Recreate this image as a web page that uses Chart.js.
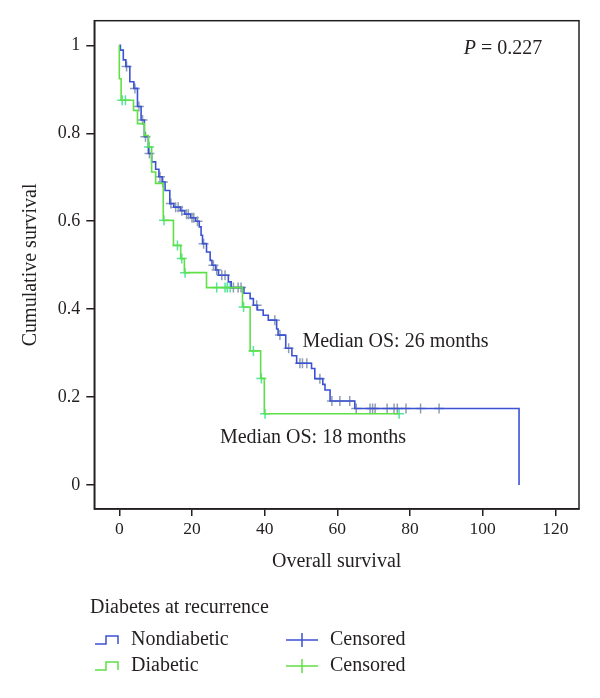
<!DOCTYPE html>
<html><head><meta charset="utf-8">
<script src="https://cdn.jsdelivr.net/npm/chart.js@4.4.1/dist/chart.umd.min.js"></script>
<style>html,body{margin:0;padding:0;background:#fff;} #wrap{position:relative;width:600px;height:698px;}</style>
</head><body><div id="wrap"><canvas id="c" width="600" height="698"></canvas></div>
<script>
// ---- data ----
const xTickValues = [0, 20, 40, 60, 80, 100, 120];
const yTickValues = [0, 0.2, 0.4, 0.6, 0.8, 1];
const groupLabels = ['Nondiabetic', 'Diabetic'];
const legendTitle = 'Diabetes at recurrence';
const censorLabel = 'Censored';
const pValueText = '0.227';
const medianTexts = ['Median OS: 26 months', 'Median OS: 18 months'];

// Nondiabetic: event times (months) and survival after each step
const nonTimes = [0, 0.3, 1.1, 1.8, 2.9, 4.0, 5.0, 6.0, 6.9, 8.0, 8.9, 10.0, 10.9, 11.8, 12.6, 13.9, 15.0, 16.8, 18.0, 19.6, 21.0, 22.0, 22.5, 22.9, 24.0, 25.0, 25.5, 26.5, 27.3, 30.0, 30.8, 34.3, 36.0, 36.9, 38.0, 39.6, 41.0, 43.3, 43.7, 45.8, 47.5, 48.8, 52.9, 53.8, 56.0, 56.6, 58.0, 64.8, 110];
const nonSurv  = [1, 0.989, 0.967, 0.952, 0.917, 0.902, 0.861, 0.830, 0.792, 0.754, 0.735, 0.718, 0.701, 0.689, 0.670, 0.640, 0.632, 0.624, 0.616, 0.608, 0.600, 0.587, 0.568, 0.549, 0.530, 0.511, 0.500, 0.489, 0.477, 0.462, 0.449, 0.436, 0.424, 0.409, 0.398, 0.386, 0.375, 0.355, 0.341, 0.311, 0.294, 0.277, 0.265, 0.242, 0.229, 0.216, 0.191, 0.174, 0];
const nonCensor = [2.0, 4.3, 5.4, 6.4, 7.2, 8.3, 11.2, 12.0, 14.2, 15.5, 16.2, 17.2, 18.5, 19.0, 20.0, 20.5, 21.5, 23.2, 25.9, 26.8, 28.2, 29.1, 31.4, 32.7, 33.5, 37.8, 42.8, 44.2, 46.6, 49.7, 50.4, 51.6, 55.2, 58.5, 60.7, 63.4, 65.2, 69.0, 69.7, 70.4, 73.7, 75.6, 76.5, 78.9, 82.9, 88.0];

// Diabetic
const diaTimes = [0, 0, 0.5, 3.9, 5.0, 6.9, 8.0, 8.9, 10.0, 12.1, 14.9, 16.9, 17.9, 24.0, 33.9, 36.0, 38.9, 39.9, 77];
const diaSurv  = [1, 0.924, 0.875, 0.852, 0.822, 0.795, 0.769, 0.712, 0.686, 0.602, 0.545, 0.515, 0.483, 0.449, 0.405, 0.305, 0.2425, 0.162, 0.162];
const diaCensor = [0.8, 1.7, 8.2, 12.3, 16.0, 17.2, 18.1, 26.8, 29.1, 29.7, 30.5, 34.2, 36.9, 39.1, 40.1, 77];

// ---- styling ----
const BLUE = '#3b52d4', GREEN = '#5fe046';
const BLUE_CENS = '#8e9db4', GREEN_CENS = '#55e59c';
const INK = '#231f20';
const FONT = '"Liberation Serif", "Times New Roman", serif';

function curve(times, surv) { return times.map((t, i) => ({x: t, y: surv[i]})); }
function levelAt(times, surv, t) {
  let s = surv[0];
  for (let i = 0; i < times.length; i++) { if (times[i] <= t) s = surv[i]; }
  return s;
}
function censorPts(cens, times, surv) { return cens.map(t => ({x: t, y: levelAt(times, surv, t)})); }

Chart.defaults.font.family = FONT;
Chart.defaults.color = INK;

const overlay = {
  id: 'overlay',
  afterDraw(chart) {
    const {ctx, chartArea: a, scales: {x, y}} = chart;
    ctx.save();
    ctx.strokeStyle = INK; ctx.lineWidth = 1.5;
    ctx.strokeRect(a.left, a.top, a.right - a.left, a.bottom - a.top);
    ctx.fillStyle = INK; ctx.textBaseline = 'middle'; ctx.textAlign = 'left';
    // p value
    ctx.font = 'italic 20px ' + FONT;
    const px = x.getPixelForValue(94.8), py = y.getPixelForValue(0.992);
    ctx.fillText('P', px, py);
    const pw = ctx.measureText('P').width;
    ctx.font = '20px ' + FONT;
    ctx.fillText(' = ' + pValueText, px + pw, py);
    // median annotations
    ctx.fillText(medianTexts[0], x.getPixelForValue(50.4), y.getPixelForValue(0.326));
    ctx.fillText(medianTexts[1], x.getPixelForValue(27.7), y.getPixelForValue(0.107));
    // legend
    ctx.fillText(legendTitle, 90, 608);
    const rows = [640, 666];
    const cols = [BLUE, GREEN];
    rows.forEach((ry, i) => {
      ctx.strokeStyle = cols[i]; ctx.lineWidth = 1.5;
      ctx.beginPath();
      ctx.moveTo(95, ry + 4); ctx.lineTo(106, ry + 4); ctx.lineTo(106, ry - 4);
      ctx.lineTo(118, ry - 4); ctx.lineTo(118, ry + 4);
      ctx.stroke();
      ctx.beginPath();
      ctx.moveTo(286, ry); ctx.lineTo(318, ry);
      ctx.moveTo(302, ry - 7); ctx.lineTo(302, ry + 7);
      ctx.stroke();
      ctx.fillStyle = INK;
      ctx.fillText(groupLabels[i], 131, ry);
      ctx.fillText(censorLabel, 330, ry);
    });
    ctx.restore();
  }
};

new Chart(document.getElementById('c'), {
  type: 'scatter',
  data: {
    datasets: [
      {label: groupLabels[1], data: curve(diaTimes, diaSurv), showLine: true, stepped: 'before', borderColor: GREEN, borderWidth: 1.6, pointRadius: 0, fill: false},
      {label: groupLabels[0], data: curve(nonTimes, nonSurv), showLine: true, stepped: 'before', borderColor: BLUE, borderWidth: 1.6, pointRadius: 0, fill: false},
      {label: censorLabel, data: censorPts(nonCensor, nonTimes, nonSurv), showLine: false, pointStyle: 'cross', pointRadius: 5, borderColor: BLUE_CENS, borderWidth: 1.5},
      {label: censorLabel, data: censorPts(diaCensor, diaTimes, diaSurv), showLine: false, pointStyle: 'cross', pointRadius: 5, borderColor: GREEN_CENS, borderWidth: 1.5}
    ]
  },
  options: {
    responsive: false, animation: false, devicePixelRatio: 1,
    layout: {padding: {top: 20.7, right: 21, left: 0, bottom: 124}},
    plugins: {legend: {display: false}, tooltip: {enabled: false}},
    scales: {
      x: {
        type: 'linear', min: -6.88, max: 126.5,
        afterBuildTicks: axis => { axis.ticks = xTickValues.map(v => ({value: v})); },
        afterFit: s => { s.height = 65; },
        ticks: {font: {size: 17.5}, color: INK, padding: 3, maxRotation: 0, autoSkip: false},
        grid: {drawOnChartArea: false, drawTicks: true, tickLength: 7, color: INK, lineWidth: 1.5},
        border: {display: true, color: INK, width: 1.5},
        title: {display: true, text: 'Overall survival', font: {size: 20}, color: INK, padding: {top: 0, bottom: 0}}
      },
      y: {
        type: 'linear', min: -0.0545, max: 1.056,
        afterBuildTicks: axis => { axis.ticks = yTickValues.map(v => ({value: v})); },
        afterFit: s => { s.width = 94.3; },
        ticks: {font: {size: 18}, color: INK, padding: 6, callback: v => String(v)},
        grid: {drawOnChartArea: false, drawTicks: true, tickLength: 8, color: INK, lineWidth: 1.5},
        border: {display: true, color: INK, width: 1.5},
        title: {display: true, text: 'Cumulative survival', font: {size: 20}, color: INK, padding: {top: 19, bottom: 0}}
      }
    }
  },
  plugins: [overlay]
});
</script>
</body></html>
